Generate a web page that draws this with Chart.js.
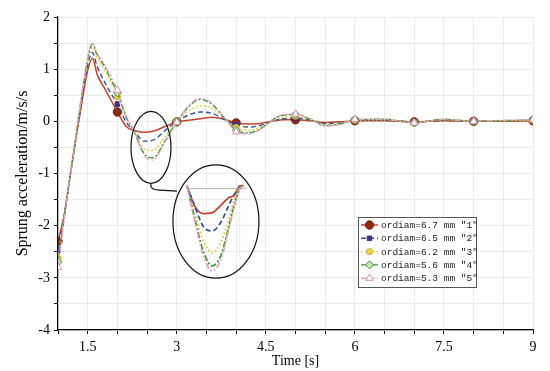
<!DOCTYPE html>
<html>
<head>
<meta charset="utf-8">
<script src="https://cdn.jsdelivr.net/npm/chart.js@4"></script>
<style>
  html, body { margin: 0; padding: 0; background: #fff; }
  #wrap { width: 550px; height: 371px; }
</style>
</head>
<body>
<div id="wrap"><canvas id="accChart"></canvas></div>
<script>
// series names, as in the legend
const seriesNames = [
  'ordiam=6.7 mm ″1″',
  'ordiam=6.5 mm ″2″',
  'ordiam=6.2 mm ″3″',
  'ordiam=5.6 mm ″4″',
  'ordiam=5.3 mm ″5″'
];

// time samples [s]
const timeX = [1, 1.1, 1.2, 1.3, 1.4, 1.5, 1.58, 1.66, 1.8, 1.9, 2, 2.15, 2.27, 2.45, 2.6, 2.8, 3, 3.2, 3.4, 3.6, 3.8,
  4, 4.2, 4.4, 4.6, 4.8, 5, 5.25, 5.5, 5.75, 6, 6.5, 7, 7.5, 8, 8.5, 9];

// sprung acceleration [m/s/s]
const acc67 = [-2.3, -1.82, -1.08, -0.35, 0.35, 0.98, 1.21, 0.9, 0.6, 0.39, 0.18, -0.1, -0.17, -0.21, -0.19, -0.1, -0.01, 0.02, 0.05, 0.08, 0.04,
  -0.03, -0.05, -0.04, 0.0, 0.03, 0.03, 0.01, -0.02, -0.01, 0.01, 0.01, -0.01, 0.01, 0.0, 0.0, 0.01];
const acc65 = [-2.47, -1.84, -1.08, -0.33, 0.4, 1.08, 1.32, 1.05, 0.72, 0.52, 0.33, -0.02, -0.17, -0.38, -0.36, -0.18, 0.0, 0.12, 0.18, 0.15, 0.04,
  -0.07, -0.11, -0.08, 0.0, 0.05, 0.06, 0.02, -0.04, -0.03, 0.01, 0.02, -0.01, 0.02, 0.0, 0.01, 0.02];
const acc62 = [-2.63, -1.86, -1.08, -0.32, 0.45, 1.15, 1.42, 1.22, 0.95, 0.72, 0.47, 0.05, -0.17, -0.52, -0.56, -0.3, 0.0, 0.2, 0.3, 0.24, 0.06,
  -0.12, -0.17, -0.12, 0.0, 0.08, 0.1, 0.03, -0.06, -0.04, 0.02, 0.03, -0.02, 0.03, 0.0, 0.01, 0.02];
const acc56 = [-2.7, -1.88, -1.08, -0.3, 0.5, 1.2, 1.48, 1.28, 1.02, 0.78, 0.55, 0.08, -0.17, -0.62, -0.7, -0.38, -0.01, 0.28, 0.42, 0.32, 0.07,
  -0.17, -0.22, -0.15, 0.02, 0.12, 0.13, 0.04, -0.08, -0.05, 0.03, 0.04, -0.03, 0.04, 0.0, 0.01, 0.03];
const acc53 = [-2.8, -1.9, -1.08, -0.3, 0.52, 1.22, 1.5, 1.3, 1.06, 0.83, 0.6, 0.1, -0.17, -0.65, -0.74, -0.4, -0.02, 0.3, 0.44, 0.34, 0.08,
  -0.2, -0.24, -0.16, 0.02, 0.13, 0.14, 0.05, -0.09, -0.06, 0.04, 0.04, -0.03, 0.04, 0.0, 0.02, 0.03];

// magnified inset, as drawn inside the big ellipse (plot coordinates)
const insetX = [3.17, 3.3, 3.45, 3.6, 3.75, 3.88, 3.97, 4.05, 4.12];
const inset67 = [-1.23, -1.62, -1.77, -1.75, -1.6, -1.46, -1.42, -1.25, -1.23];
const inset65 = [-1.23, -1.62, -2.02, -2.1, -1.92, -1.6, -1.4, -1.28, -1.23];
const inset62 = [-1.23, -1.75, -2.3, -2.52, -2.3, -1.85, -1.5, -1.3, -1.23];
const inset56 = [-1.23, -1.85, -2.5, -2.77, -2.55, -2.0, -1.6, -1.32, -1.23];
const inset53 = [-1.23, -1.9, -2.58, -2.87, -2.63, -2.05, -1.62, -1.33, -1.23];
const insetBaseX = [3.22, 4.18];
const insetBaseY = [-1.29, -1.29];

// axis tick labels
const xTickLabels = [1.5, 3, 4.5, 6, 7.5, 9];
const yTickLabels = [-4, -3, -2, -1, 0, 1, 2];

const mainSeries = [acc67, acc65, acc62, acc56, acc53];
const insetSeries = [inset67, inset65, inset62, inset56, inset53];

const looks = [
  { line: '#c4432a', fill: '#8e2a12', border: '#7a2410', dash: [], shape: 'circle', r: 4.2, w: 1.5 },
  { line: '#2c4f9e', fill: '#3a2f8c', border: '#3a2f8c', dash: [5, 3], shape: 'rect', r: 3.2, w: 1.4 },
  { line: '#e0cd45', fill: '#e8d448', border: '#cdb82e', dash: [2, 2], shape: 'circle', r: 3.2, w: 1.4 },
  { line: '#3e9232', fill: '#c8e6b8', border: '#3e9232', dash: [6, 2, 2, 2], shape: 'rectRot', r: 4, w: 1.4 },
  { line: '#e2a2c4', fill: '#ffffff', border: '#d890b4', dash: [6, 2, 2, 2, 2, 2], shape: 'triangle', r: 4.2, w: 1.4 }
];

const toPts = (xs, ys) => xs.map((x, i) => ({ x: x, y: ys[i] }));

const datasets = [];
// draw series 5 first so series 1 ends on top
for (let i = mainSeries.length - 1; i >= 0; i--) {
  const lk = looks[i];
  datasets.push({
    label: seriesNames[i],
    data: toPts(timeX, mainSeries[i]),
    borderColor: lk.line,
    borderWidth: lk.w,
    borderDash: lk.dash,
    cubicInterpolationMode: 'monotone',
    pointStyle: lk.shape,
    pointRadius: timeX.map(v => Number.isInteger(v) ? lk.r : 0),
    pointBackgroundColor: lk.fill,
    pointBorderColor: lk.border,
    pointBorderWidth: 1,
    fill: false
  });
}
datasets.push({
  label: 'inset base',
  data: toPts(insetBaseX, insetBaseY),
  borderColor: '#b4b4b4',
  borderWidth: 1,
  pointRadius: 0,
  fill: false
});
for (let i = insetSeries.length - 1; i >= 0; i--) {
  const lk = looks[i];
  datasets.push({
    label: 'inset ' + seriesNames[i],
    data: toPts(insetX, insetSeries[i]),
    borderColor: lk.line,
    borderWidth: lk.w + 0.3,
    borderDash: lk.dash,
    cubicInterpolationMode: 'monotone',
    pointRadius: 0,
    fill: false
  });
}

const near = (v, list) => list.some(t => Math.abs(t - v) < 1e-6);

// ellipses and connector of the zoom callout, in plot units
const calloutPlugin = {
  id: 'callout',
  afterDatasetsDraw(chart) {
    const { ctx, scales: { x, y } } = chart;
    const px = v => x.getPixelForValue(v);
    const py = v => y.getPixelForValue(v);
    const ellipse = (cx, cy, rx, ry) => {
      ctx.beginPath();
      ctx.ellipse(px(cx), py(cy), Math.abs(px(cx + rx) - px(cx)), Math.abs(py(cy + ry) - py(cy)), 0, 0, Math.PI * 2);
      ctx.stroke();
    };
    ctx.save();
    ctx.strokeStyle = '#111';
    ctx.lineWidth = 1.2;
    ctx.setLineDash([]);
    ellipse(2.566, -0.5, 0.337, 0.69);
    ellipse(3.66, -1.92, 0.724, 1.087);
    ctx.beginPath();
    ctx.moveTo(px(2.566), py(-1.19));
    ctx.bezierCurveTo(px(2.549), py(-1.29), px(2.616), py(-1.317), px(2.717), py(-1.317));
    ctx.lineTo(px(3.003), py(-1.337));
    ctx.stroke();
    // faint dotted guide inside the inset
    ctx.strokeStyle = '#bbbbbb';
    ctx.lineWidth = 0.8;
    ctx.setLineDash([1, 2]);
    ctx.beginPath();
    ctx.moveTo(px(4.06), py(-1.29));
    ctx.lineTo(px(4.06), py(-2.67));
    ctx.stroke();
    ctx.restore();
  }
};

const legendPlugin = {
  id: 'boxLegend',
  afterDraw(chart) {
    const { ctx } = chart;
    const left = 358, top = 217, w = 118, h = 70, row = 13.3;
    ctx.save();
    ctx.fillStyle = '#fff';
    ctx.fillRect(left, top, w, h);
    ctx.strokeStyle = '#555';
    ctx.lineWidth = 1;
    ctx.setLineDash([]);
    ctx.strokeRect(left + 0.5, top + 0.5, w, h);
    ctx.font = '9.5px "Liberation Mono", "DejaVu Sans Mono", monospace';
    ctx.textBaseline = 'middle';
    seriesNames.forEach((name, i) => {
      const lk = looks[i];
      const yy = top + 8 + i * row;
      ctx.strokeStyle = lk.line;
      ctx.lineWidth = lk.w;
      ctx.setLineDash(lk.dash);
      ctx.beginPath();
      ctx.moveTo(left + 3, yy);
      ctx.lineTo(left + 20, yy);
      ctx.stroke();
      ctx.setLineDash([]);
      ctx.fillStyle = lk.fill;
      ctx.strokeStyle = lk.border;
      ctx.lineWidth = 1;
      Chart.helpers.drawPoint(ctx, { pointStyle: lk.shape, radius: lk.r, rotation: 0, borderWidth: 1 }, left + 11.5, yy);
      ctx.fillStyle = '#222';
      ctx.fillText(name, left + 23, yy + 0.5);
    });
    ctx.restore();
  }
};

const config = {
  type: 'line',
  data: { datasets: datasets },
  options: {
    responsive: true,
    maintainAspectRatio: false,
    animation: false,
    layout: { padding: { top: 17, right: 17, left: 0, bottom: 0 } },
    plugins: {
      legend: { display: false },
      tooltip: { enabled: false }
    },
    scales: {
      x: {
        type: 'linear',
        min: 1,
        max: 9,
        afterFit: s => { s.height = 41; },
        ticks: {
          stepSize: 0.5,
          autoSkip: false,
          maxRotation: 0,
          padding: 5,
          color: '#000',
          font: { family: '"Liberation Serif", "Times New Roman", serif', size: 14 },
          callback: v => near(v, xTickLabels) ? String(v) : ''
        },
        grid: { color: '#ececec', tickColor: '#000', tickLength: 4, lineWidth: 1 },
        border: { color: '#000', width: 1.2 },
        title: {
          display: true,
          text: 'Time [s]',
          color: '#000',
          padding: { top: 0, bottom: 1 },
          font: { family: '"Liberation Serif", "Times New Roman", serif', size: 14 }
        }
      },
      y: {
        min: -4,
        max: 2,
        afterFit: s => { s.width = 58; },
        ticks: {
          stepSize: 0.5,
          autoSkip: false,
          padding: 4,
          color: '#000',
          font: { family: '"Liberation Serif", "Times New Roman", serif', size: 14 },
          callback: v => near(v, yTickLabels) ? String(v) : ''
        },
        grid: { color: '#ececec', tickColor: '#000', tickLength: 4, lineWidth: 1 },
        border: { color: '#000', width: 1.2 },
        title: {
          display: true,
          text: 'Sprung acceleration/m/s/s',
          color: '#000',
          padding: { top: 13, bottom: 0 },
          font: { family: '"Liberation Serif", "Times New Roman", serif', size: 16 }
        }
      }
    }
  },
  plugins: [calloutPlugin, legendPlugin]
};

const accChart = new Chart(document.getElementById('accChart'), config);
</script>
</body>
</html>
